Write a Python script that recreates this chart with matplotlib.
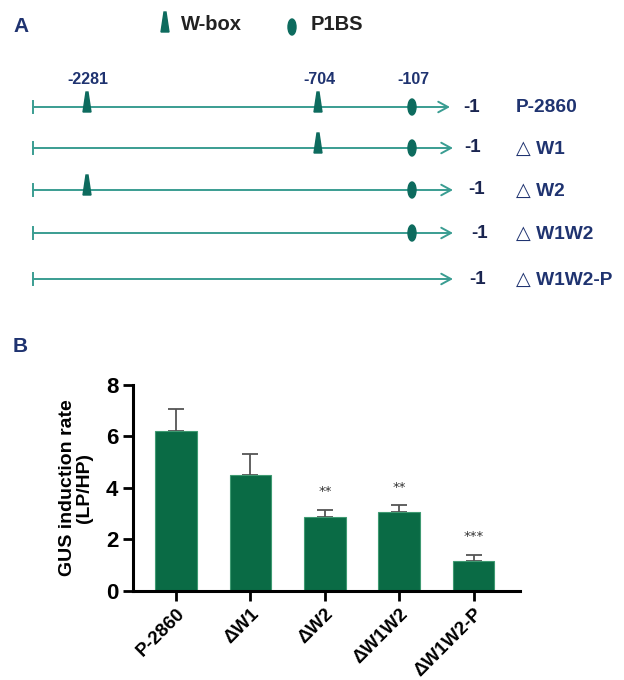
import numpy as np
import matplotlib
matplotlib.use("Agg")
import matplotlib.pyplot as plt
from matplotlib.patches import Polygon, Ellipse

# panel A: promoter constructs (schematic positions in panel pixels)
constructs = ['P-2860', '\u25b3 W1', '\u25b3 W2', '\u25b3 W1W2', '\u25b3 W1W2-P']
site_labels = ['-2281', '-704', '-107']
site_x = [87, 318, 412]
row_y = [107, 148, 190, 233, 279]
line_start = 33
line_end = [450, 453, 453, 453, 453]
minus1_x = [472, 473, 477, 480, 478]
has_w2281 = [True, False, True, False, False]
has_w704 = [True, True, False, False, False]
has_p1bs = [True, True, True, True, False]

# panel B: GUS induction
groups = ['P-2860', '\u0394W1', '\u0394W2', '\u0394W1W2', '\u0394W1W2-P']
means = [6.2, 4.52, 2.88, 3.05, 1.18]
errs = [0.88, 0.78, 0.27, 0.27, 0.23]
stars = ['', '', '**', '**', '***']

navy = '#1f3370'
line_col = '#3a9d92'
mark_col = '#0d6b5e'
bar_col = '#0a6b45'
fam = ['Liberation Sans', 'DejaVu Sans']

fig = plt.figure(figsize=(6.24, 6.8), dpi=100)

ax = fig.add_axes([0, 0, 1, 1])
ax.set_xlim(0, 624)
ax.set_ylim(680, 0)
ax.axis('off')

ax.text(13, 26, 'A', fontsize=15, fontweight='bold', color=navy, family=fam, va='center')
ax.text(13, 346, 'B', fontsize=15, fontweight='bold', color=navy, family=fam, va='center')


def wbox(x, y):
    ax.add_patch(Polygon([[x - 4, y + 5], [x + 4, y + 5], [x + 1, y - 15], [x - 1, y - 15]],
                         closed=True, color=mark_col, zorder=4))


def p1bs(x, y):
    ax.add_patch(Ellipse((x, y), 8, 16, color=mark_col, zorder=4))


# legend
wbox(165, 27)
ax.text(181, 25, 'W-box', fontsize=14.5, fontweight='bold', color='#222222', family=fam, va='center')
p1bs(292, 27)
ax.text(311, 25, 'P1BS', fontsize=14.5, fontweight='bold', color='#222222', family=fam, va='center')

for lab, x in zip(site_labels, site_x):
    ax.text(x + 1, 80, lab, fontsize=11.5, fontweight='bold', color=navy, family=fam,
            ha='center', va='center')

for i, name in enumerate(constructs):
    y = row_y[i]
    ax.annotate('', xy=(line_end[i], y), xytext=(line_start, y),
                arrowprops=dict(arrowstyle='->,head_length=0.7,head_width=0.38',
                                color=line_col, lw=1.4, shrinkA=0, shrinkB=0))
    ax.plot([line_start, line_start], [y - 6, y + 6], color=line_col, lw=1.4)
    if has_w2281[i]:
        wbox(site_x[0], y)
    if has_w704[i]:
        wbox(site_x[1], y)
    if has_p1bs[i]:
        p1bs(site_x[2], y)
    ax.text(minus1_x[i], y, '-1', fontsize=13.5, fontweight='bold', color='#1a2550',
            family=fam, ha='center', va='center')
    ax.text(516, y + 1, name, fontsize=13.8, fontweight='bold', color=navy, family=fam,
            va='center')

# bar chart
axb = fig.add_axes([0.213, 0.131, 0.62, 0.303])
x = np.arange(len(groups))
axb.bar(x, means, width=0.56, color=bar_col, edgecolor='#3f9a72', linewidth=0.8, zorder=2)
axb.errorbar(x, means, yerr=[np.zeros(len(errs)), errs], fmt='none', ecolor='#555555',
             elinewidth=1.3, capsize=5.5, capthick=1.3, zorder=1)
for xi, m, e, s in zip(x, means, errs, stars):
    if s:
        axb.text(xi, m + e + 0.45, s, ha='center', va='bottom', fontsize=9.5, color='#333333')

axb.set_xlim(-0.58, 4.62)
axb.set_ylim(0, 8)
axb.set_yticks([0, 2, 4, 6, 8])
axb.set_xticks(x)
axb.set_xticklabels(groups, rotation=45, ha='right', rotation_mode='anchor',
                    fontsize=13.5, fontweight='bold', family=fam)
for t in axb.get_yticklabels():
    t.set_fontsize(16)
    t.set_fontweight('bold')
    t.set_family(fam)
axb.spines['top'].set_visible(False)
axb.spines['right'].set_visible(False)
axb.spines['left'].set_linewidth(2.2)
axb.spines['bottom'].set_linewidth(2.2)
axb.tick_params(width=2, length=7)
axb.set_ylabel('GUS induction rate\n(LP/HP)', fontsize=14, fontweight='bold', family=fam,
               labelpad=9, linespacing=1.0)

fig.savefig('out.png', dpi=100)
